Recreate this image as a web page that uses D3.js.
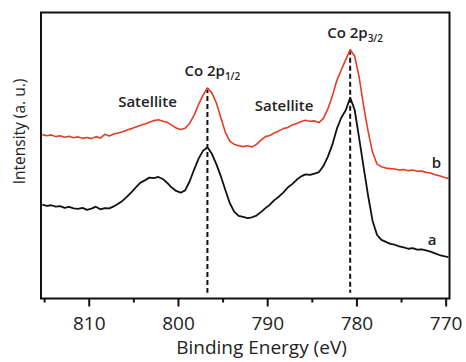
<!DOCTYPE html>
<html>
<head>
<meta charset="utf-8">
<script src="https://cdn.jsdelivr.net/npm/d3@7"></script>
<style>
  body { margin: 0; background: #fff; }
  svg { display: block; font-family: "Open Sans", "Noto Sans", sans-serif; }
</style>
</head>
<body>
<svg id="chart" width="466" height="362"></svg>
<script>
// Binding energy grid (eV), high to low as usual for XPS
const energy = [
  815.2, 814.7, 814.2, 813.7, 813.2, 812.7, 812.2, 811.7, 811.2, 810.7,
  810.2, 809.7, 809.2, 808.7, 808.2, 807.7, 807.2, 806.7, 806.2, 805.7,
  805.2, 804.7, 804.2, 803.7, 803.2, 802.7, 802.2, 801.7, 801.2, 800.7,
  800.2, 799.7, 799.2, 798.7, 798.2, 797.7, 797.2, 796.7, 796.2, 795.7,
  795.2, 794.7, 794.2, 793.7, 793.2, 792.7, 792.2, 791.7, 791.2, 790.7,
  790.2, 789.7, 789.2, 788.7, 788.2, 787.7, 787.2, 786.7, 786.2, 785.7,
  785.2, 784.7, 784.2, 783.7, 783.2, 782.7, 782.2, 781.7, 781.2, 780.7,
  780.2, 779.7, 779.2, 778.7, 778.2, 777.7, 777.2, 776.7, 776.2, 775.7,
  775.2, 774.7, 774.2, 773.7, 773.2, 772.7, 772.2, 771.7, 771.2, 770.7,
  770.2, 769.7
];

// Co 2p spectrum of sample a (arbitrary units)
const sampleA = [
  32.8, 32.4, 32.6, 32.1, 32.3, 31.7, 32.0, 31.5, 31.3, 31.7,
  31.0, 31.4, 32.1, 31.2, 31.6, 31.5, 32.2, 33.1, 34.2, 35.6,
  37.2, 38.9, 40.5, 41.3, 42.3, 42.1, 42.5, 41.8, 40.4, 38.8,
  37.6, 37.0, 37.8, 40.9, 45.0, 48.8, 51.6, 52.9, 50.6, 47.0,
  42.8, 38.0, 33.4, 30.4, 28.9, 28.5, 28.1, 28.4, 29.0, 30.2,
  31.6, 32.8, 34.4, 35.6, 37.0, 38.8, 40.0, 41.5, 42.7, 43.4,
  43.2, 43.7, 44.2, 46.3, 49.6, 53.8, 59.3, 63.2, 65.8, 70.2,
  66.0, 56.2, 46.0, 36.1, 27.3, 22.3, 20.5, 19.8, 19.1, 18.8,
  18.2, 17.9, 17.4, 17.6, 17.1, 17.2, 16.8, 16.4, 15.8, 15.2,
  14.8, 14.5
];

// Co 2p spectrum of sample b (arbitrary units, offset upward)
const sampleB = [
  57.3, 56.9, 57.2, 56.6, 56.9, 56.4, 56.7, 56.2, 56.5, 56.0,
  56.3, 55.9, 56.6, 56.1, 57.4, 56.8, 57.5, 57.9, 58.3, 58.9,
  59.4, 60.0, 60.6, 61.0, 61.6, 62.2, 62.5, 62.0, 61.6, 60.6,
  59.6, 59.1, 59.5, 61.2, 64.0, 67.8, 71.0, 73.6, 71.9, 68.4,
  63.3, 58.2, 55.0, 53.9, 53.4, 53.1, 53.4, 53.0, 53.9, 55.4,
  56.6, 57.0, 57.9, 58.6, 59.4, 59.8, 60.7, 61.2, 61.9, 62.3,
  62.0, 62.1, 61.5, 63.0, 66.3, 70.8, 76.2, 79.9, 83.5, 87.0,
  84.8, 77.5, 67.4, 58.6, 51.2, 47.0, 46.1, 45.6, 45.4, 45.3,
  44.9, 45.1, 44.7, 44.9, 44.5, 44.6, 44.1, 43.9, 43.3, 42.9,
  42.4, 42.0
];

const xTicks = [810, 800, 790, 780, 770];
const xMinorTicks = [815, 805, 795, 785, 775];
const peakEnergies = [796.7, 780.7];
const peakNames = [["Co 2p", "1/2"], ["Co 2p", "3/2"]];
const satelliteEnergies = [806.7, 791.4];
const satelliteLevels = [67.0, 65.6];
const curveNames = ["a", "b"];

const width = 466, height = 362;
const margin = { top: 12.5, right: 16.5, bottom: 63.5, left: 41 };
const innerW = width - margin.left - margin.right;
const innerH = height - margin.top - margin.bottom;

const svg = d3.select("#chart");
const g = svg.append("g").attr("transform", `translate(${margin.left},${margin.top})`);

const x = d3.scaleLinear().domain([815.35, 769.57]).range([0, innerW]);
const y = d3.scaleLinear().domain([0, 100]).range([innerH, 0]);

const line = d3.line()
  .x((d, i) => x(energy[i]))
  .y(d => y(d))
  .curve(d3.curveLinear);

// peak position guides
const dashFloor = 2;
peakEnergies.forEach(e => {
  const i = energy.indexOf(e);
  g.append("line")
    .attr("x1", x(e)).attr("x2", x(e))
    .attr("y1", y(sampleB[i])).attr("y2", y(dashFloor))
    .attr("stroke", "#111")
    .attr("stroke-width", 2)
    .attr("stroke-dasharray", "5,3");
});

// spectra
g.append("path").datum(sampleA)
  .attr("d", line).attr("fill", "none")
  .attr("stroke", "#111").attr("stroke-width", 1.8)
  .attr("stroke-linejoin", "round");
g.append("path").datum(sampleB)
  .attr("d", line).attr("fill", "none")
  .attr("stroke", "#e63b24").attr("stroke-width", 1.6)
  .attr("stroke-linejoin", "round");

// bottom axis: major ticks with labels, minor ticks without
const axisMajor = g.append("g")
  .attr("transform", `translate(0,${innerH})`)
  .call(d3.axisBottom(x).tickValues(xTicks).tickSize(8).tickPadding(10).tickFormat(d3.format("d")));
const axisMinor = g.append("g")
  .attr("transform", `translate(0,${innerH})`)
  .call(d3.axisBottom(x).tickValues(xMinorTicks).tickSize(4).tickFormat(""));
[axisMajor, axisMinor].forEach(a => {
  a.select(".domain").remove();
  a.selectAll(".tick line").attr("stroke", "#111").attr("stroke-width", 2);
});
axisMajor.selectAll(".tick text")
  .attr("fill", "#222")
  .style("font-size", "19px")
  .style("font-family", "'Open Sans', sans-serif");

// frame
g.append("rect")
  .attr("x", 0).attr("y", 0)
  .attr("width", innerW).attr("height", innerH)
  .attr("fill", "none").attr("stroke", "#111").attr("stroke-width", 2);

// axis titles
svg.append("text")
  .attr("x", 261.5).attr("y", 354)
  .attr("text-anchor", "middle")
  .attr("fill", "#222")
  .style("font-size", "19px")
  .text("Binding Energy (eV)");

svg.append("text")
  .attr("transform", `translate(25,${131.5}) rotate(-90)`)
  .attr("text-anchor", "middle")
  .attr("fill", "#222")
  .style("font-size", "15.5px")
  .text("Intensity (a. u.)");

// peak labels with subscripted level
peakEnergies.forEach((e, k) => {
  const i = energy.indexOf(e);
  const t = g.append("text")
    .attr("x", x(e) - 23)
    .attr("y", y(sampleB[i]) - 12)
    .attr("fill", "#222")
    .style("font-size", "15px")
    .style("font-weight", 600);
  t.append("tspan").text(peakNames[k][0]);
  t.append("tspan").attr("dy", 4).style("font-size", "10px").text(peakNames[k][1]);
});

// satellite labels
satelliteEnergies.forEach((e, k) => {
  g.append("text")
    .attr("x", x(e)).attr("y", y(satelliteLevels[k]))
    .attr("fill", "#222")
    .style("font-size", "15px")
    .style("font-weight", 600)
    .text("Satellite");
});

// curve tags
const tagEnergy = [772.0, 771.55];
const tagLevel = [18.7, 45.6];
curveNames.forEach((n, k) => {
  g.append("text")
    .attr("x", x(tagEnergy[k])).attr("y", y(tagLevel[k]))
    .attr("fill", "#222")
    .style("font-size", "15px")
    .style("font-weight", 600)
    .text(n);
});
</script>
</body>
</html>
